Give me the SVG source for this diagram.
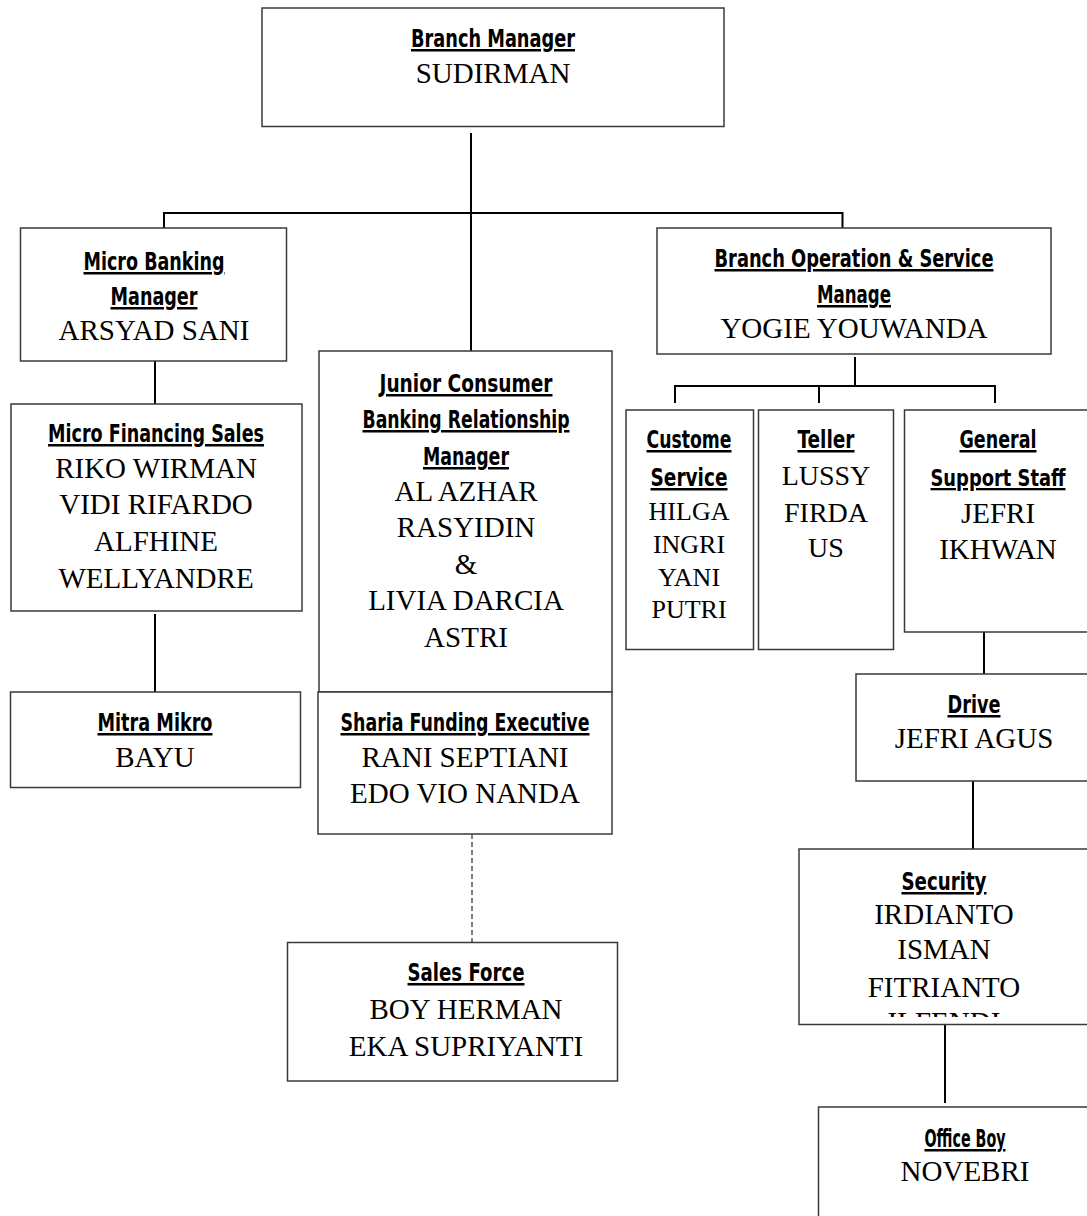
<svg xmlns="http://www.w3.org/2000/svg" width="1087" height="1216" viewBox="0 0 1087 1216">
<style>
.box{fill:#fff;stroke:#3a3a3a;stroke-width:1.5}
.t{font-family:"DejaVu Sans Condensed","DejaVu Sans","Liberation Sans",sans-serif;font-stretch:condensed;font-weight:bold;font-size:25px;text-anchor:middle;text-decoration:underline;fill:#000}
.n{font-family:"Liberation Serif","Times New Roman",serif;font-size:29px;text-anchor:middle;fill:#000}
.s26{font-size:26px}
.s28{font-size:28px}
.c{stroke:#000;stroke-width:2;fill:none}
.d{stroke:#555;stroke-width:1.5;stroke-dasharray:5 3;fill:none}
</style>
<defs>
<clipPath id="secClip"><rect x="799" y="849" width="288" height="168"/></clipPath>
</defs>
<rect width="1087" height="1216" fill="#fff"/>

<g id="connectors">
<path class="c" d="M471,133 V361"/>
<path class="c" d="M164,228 V213 H842.5 V228"/>
<path class="c" d="M155,361 V404"/>
<path class="c" d="M155,614 V692"/>
<path class="c" d="M471.5,675 V697"/>
<path class="d" d="M472,834 V953"/>
<path class="c" d="M855,357 V386"/>
<path class="c" d="M675,403 V386 H995 V403"/>
<path class="c" d="M819,386 V403"/>
<path class="c" d="M984,632 V674"/>
<path class="c" d="M973,781 V849"/>
<path class="c" d="M945,1025 V1103"/>
</g>

<g id="branch-manager">
<rect class="box" x="262" y="8" width="462" height="118.5"/>
<text class="t" x="493" y="47" textLength="164" lengthAdjust="spacingAndGlyphs">Branch Manager</text>
<text class="n" x="493" y="83">SUDIRMAN</text>
</g>

<g id="micro-banking-manager">
<rect class="box" x="20.5" y="228" width="266" height="133"/>
<text class="t" x="154" y="270" textLength="141" lengthAdjust="spacingAndGlyphs">Micro Banking</text>
<text class="t" x="154" y="305" textLength="87" lengthAdjust="spacingAndGlyphs">Manager</text>
<text class="n" x="154" y="340">ARSYAD SANI</text>
</g>

<g id="micro-financing-sales">
<rect class="box" x="11" y="404" width="291" height="207"/>
<text class="t" x="156" y="442" textLength="216" lengthAdjust="spacingAndGlyphs">Micro Financing Sales</text>
<text class="n" x="156" y="478">RIKO WIRMAN</text>
<text class="n" x="156" y="514">VIDI RIFARDO</text>
<text class="n" x="156" y="551">ALFHINE</text>
<text class="n" x="156" y="588">WELLYANDRE</text>
</g>

<g id="mitra-mikro">
<rect class="box" x="10.5" y="692" width="290" height="95.5"/>
<text class="t" x="155" y="731" textLength="115" lengthAdjust="spacingAndGlyphs">Mitra Mikro</text>
<text class="n" x="155" y="767">BAYU</text>
</g>

<g id="junior-consumer-banking">
<rect class="box" x="319" y="351" width="293" height="341"/>
<text class="t" x="466" y="392" textLength="173" lengthAdjust="spacingAndGlyphs">Junior Consumer</text>
<text class="t" x="466" y="428" textLength="207" lengthAdjust="spacingAndGlyphs">Banking Relationship</text>
<text class="t" x="466" y="465" textLength="86" lengthAdjust="spacingAndGlyphs">Manager</text>
<text class="n" x="466" y="501">AL AZHAR</text>
<text class="n" x="466" y="537">RASYIDIN</text>
<text class="n" x="466" y="574">&amp;</text>
<text class="n" x="466" y="610">LIVIA DARCIA</text>
<text class="n" x="466" y="647">ASTRI</text>
</g>

<g id="sharia-funding-executive">
<rect class="box" x="318" y="692" width="294" height="142"/>
<text class="t" x="465" y="731" textLength="249" lengthAdjust="spacingAndGlyphs">Sharia Funding Executive</text>
<text class="n" x="465" y="767">RANI SEPTIANI</text>
<text class="n" x="465" y="803">EDO VIO NANDA</text>
</g>

<g id="sales-force">
<rect class="box" x="287.5" y="942.5" width="330" height="138.5"/>
<text class="t" x="466" y="981" textLength="117" lengthAdjust="spacingAndGlyphs">Sales Force</text>
<text class="n" x="466" y="1019">BOY HERMAN</text>
<text class="n" x="466" y="1056">EKA SUPRIYANTI</text>
</g>

<g id="branch-operation-service">
<rect class="box" x="657" y="228" width="394" height="126"/>
<text class="t" x="854" y="267" textLength="279" lengthAdjust="spacingAndGlyphs">Branch Operation &amp; Service</text>
<text class="t" x="854" y="303" textLength="74" lengthAdjust="spacingAndGlyphs">Manage</text>
<text class="n" x="854" y="338">YOGIE YOUWANDA</text>
</g>

<g id="customer-service">
<rect class="box" x="626" y="410" width="127.5" height="239.5"/>
<text class="t" x="689" y="448" textLength="85" lengthAdjust="spacingAndGlyphs">Custome</text>
<text class="t" x="689" y="486" textLength="77" lengthAdjust="spacingAndGlyphs">Service</text>
<text class="n s26" x="689" y="520">HILGA</text>
<text class="n s26" x="689" y="553">INGRI</text>
<text class="n s26" x="689" y="586">YANI</text>
<text class="n s26" x="689" y="618">PUTRI</text>
</g>

<g id="teller">
<rect class="box" x="758.5" y="410" width="135" height="239.5"/>
<text class="t" x="826" y="448" textLength="57" lengthAdjust="spacingAndGlyphs">Teller</text>
<text class="n s28" x="826" y="485">LUSSY</text>
<text class="n s28" x="826" y="522">FIRDA</text>
<text class="n s28" x="826" y="557">US</text>
</g>

<g id="general-support-staff">
<rect class="box" x="904.5" y="410" width="200" height="222"/>
<text class="t" x="998" y="448" textLength="77" lengthAdjust="spacingAndGlyphs">General</text>
<text class="t" x="998" y="486" style="font-size:23px" textLength="135" lengthAdjust="spacingAndGlyphs">Support Staff</text>
<text class="n" x="998" y="523">JEFRI</text>
<text class="n" x="998" y="559">IKHWAN</text>
</g>

<g id="drive">
<rect class="box" x="856" y="674" width="250" height="107"/>
<text class="t" x="974" y="713" textLength="53" lengthAdjust="spacingAndGlyphs">Drive</text>
<text class="n" x="974" y="748">JEFRI AGUS</text>
</g>

<g id="security">
<rect class="box" x="799" y="849" width="300" height="175.5"/>
<text class="t" x="944" y="890" textLength="85" lengthAdjust="spacingAndGlyphs">Security</text>
<text class="n" x="944" y="924">IRDIANTO</text>
<text class="n" x="944" y="959">ISMAN</text>
<text class="n" x="944" y="997">FITRIANTO</text>
<text class="n" x="944" y="1032" clip-path="url(#secClip)">ILFENDI</text>
</g>

<g id="office-boy">
<rect class="box" x="818.5" y="1107" width="290" height="130"/>
<text class="t" x="965" y="1147" textLength="81" lengthAdjust="spacingAndGlyphs">Office Boy</text>
<text class="n" x="965" y="1181">NOVEBRI</text>
</g>
</svg>
